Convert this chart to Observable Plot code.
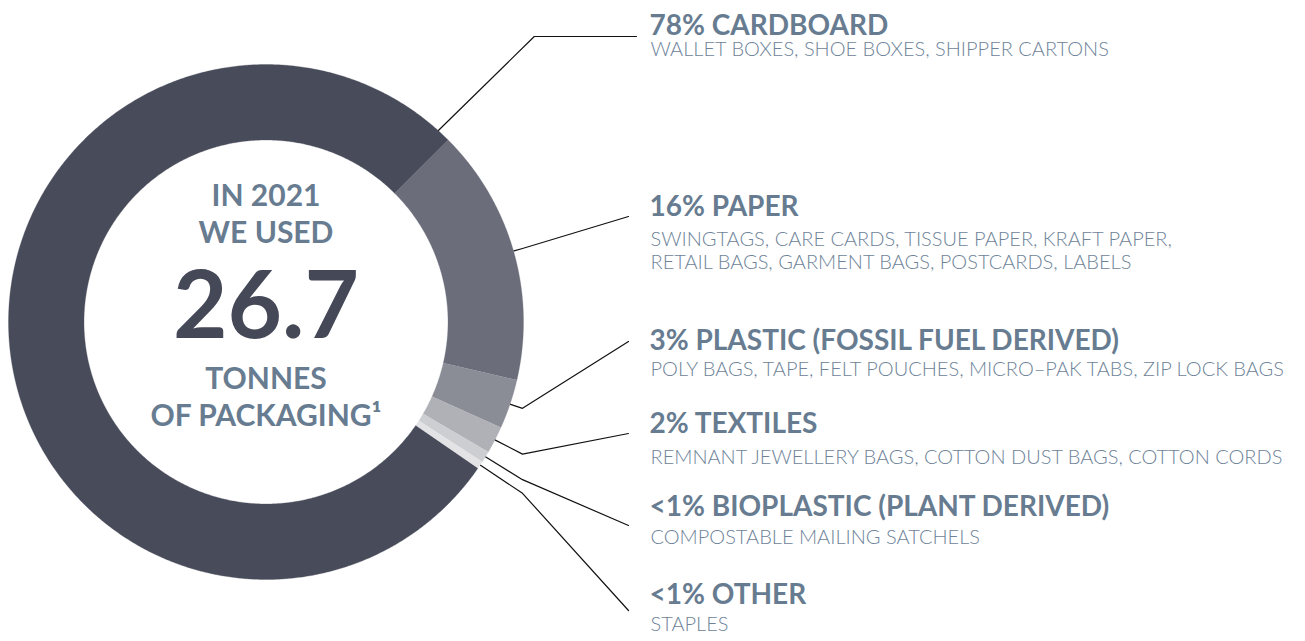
<!DOCTYPE html>
<html><head><meta charset="utf-8">
<script src="https://cdn.jsdelivr.net/npm/d3@7"></script>
<script src="https://cdn.jsdelivr.net/npm/@observablehq/plot@0.6"></script>
<style>
html,body{margin:0;padding:0;background:#fff;}
#chart{width:1305px;height:641px;overflow:hidden;}
</style>
</head><body><div id="chart"></div>
<script>
// ---------------- DATA ----------------
const categories = ["CARDBOARD", "PAPER", "PLASTIC (FOSSIL FUEL DERIVED)", "TEXTILES", "BIOPLASTIC (PLANT DERIVED)", "OTHER"];
const percentLabels = ["78%", "16%", "3%", "2%", "<1%", "<1%"];
const shares = [77.8, 16.1, 3.1, 1.7, 0.7, 0.5];   // share of the ring
const descriptions = [
  ["WALLET BOXES, SHOE BOXES, SHIPPER CARTONS"],
  ["SWINGTAGS, CARE CARDS, TISSUE PAPER, KRAFT PAPER,", "RETAIL BAGS, GARMENT BAGS, POSTCARDS, LABELS"],
  ["POLY BAGS, TAPE, FELT POUCHES, MICRO–PAK TABS, ZIP LOCK BAGS"],
  ["REMNANT JEWELLERY BAGS, COTTON DUST BAGS, COTTON CORDS"],
  ["COMPOSTABLE MAILING SATCHELS"],
  ["STAPLES"]
];
const centerLines = ["IN 2021", "WE USED", "26.7", "TONNES", "OF PACKAGING¹"];

// ---------------- LAYOUT / STYLE ----------------
const W = 1305, H = 641;
const CX = 265.5, CY = 321.5, R_OUT = 257.5, R_IN = 182;
const START_DEG = 45;                 // PAPER begins here, clockwise from 12 o'clock
const drawOrder = [1, 2, 3, 4, 5, 0];
const sliceColors = ["#484b59", "#6b6d7a", "#8a8c96", "#b0b1b7", "#cdced2", "#e3e3e6"];
const DARK = "#454856", NAME = "#677c90", SUB = "#6e8398";
const LABEL_X = 649;
const headBase = [34, 215, 349, 432, 515, 603];
const subBase = [[55], [245, 268], [375], [463], [543], [630]];
const headWidth = [264, 149, 415, 138, 482, 153];
const subWidth = [[466], [494, 462], [628], [642], [303], [70]];
const leaderEndX = [636, 628, 628, 628, 628, 628];
const leaderEndY = [36, 216, 341, 433, 525, 610];
const ELBOW_X = 522;
const centerBase = [205, 242, 337, 388, 425];
const centerSize = [30, 30, 94, 30, 30];
const centerWidth = [110, 142, 177, 124, 241];
const centerColor = [NAME, NAME, DARK, NAME, NAME];

// ---------------- GEOMETRY FROM DATA ----------------
const total = d3.sum(shares);
const slices = [];
{
  let a = START_DEG;
  for (const i of drawOrder) {
    const span = shares[i] / total * 360;
    slices[i] = {i, a0: a, a1: a + span, mid: a + span / 2};
    a += span;
  }
}
const rad = d => d * Math.PI / 180;
const px = (r, deg) => CX + r * Math.sin(rad(deg));
const py = (r, deg) => CY - r * Math.cos(rad(deg));

const arcPts = [];
for (const i of drawOrder) {
  const s = slices[i];
  const n = Math.max(2, Math.ceil((s.a1 - s.a0) / 0.4));
  for (let k = 0; k <= n; k++) { const d = s.a0 + (s.a1 - s.a0) * k / n; arcPts.push({key: i, x: px(R_OUT, d), y: py(R_OUT, d), color: sliceColors[i]}); }
  for (let k = n; k >= 0; k--) { const d = s.a0 + (s.a1 - s.a0) * k / n; arcPts.push({key: i, x: px(R_IN, d), y: py(R_IN, d), color: sliceColors[i]}); }
}

const leaderPts = [];
categories.forEach((c, i) => {
  const s = slices[i];
  const ang = i === 0 ? s.a1 - 3 : s.mid;
  const sx = px(R_OUT + 0.5, ang), sy = py(R_OUT + 0.5, ang);
  let ex, ey;
  if (i === 0) { const t = sy - leaderEndY[i]; ex = sx + t * 1.02; ey = leaderEndY[i]; }
  else { const r = (ELBOW_X - CX) / Math.sin(rad(ang)); ex = ELBOW_X; ey = py(r, ang); }
  leaderPts.push({key: i, x: sx, y: sy}, {key: i, x: ex, y: ey}, {key: i, x: leaderEndX[i], y: leaderEndY[i]});
});

const headRows = categories.map((c, i) => ({i, x: LABEL_X, y: headBase[i], text: percentLabels[i] + " " + c}));
const subRows = [];
descriptions.forEach((lines, i) => lines.forEach((t, j) => subRows.push({i, j, x: LABEL_X + 1, y: subBase[i][j], text: t, w: subWidth[i][j]})));
const centerRows = centerLines.map((t, k) => ({k, x: CX, y: centerBase[k], text: t}));

// ---------------- PLOT ----------------
const chart = Plot.plot({
  width: W, height: H, margin: 0,
  x: {domain: [0, W], range: [0, W], axis: null},
  y: {domain: [0, H], range: [0, H], axis: null},
  color: {type: "identity"},
  style: {background: "#fff"},
  marks: [
    Plot.line(arcPts, {x: "x", y: "y", z: "key", fill: "color", stroke: "color", strokeWidth: 0.3, curve: "linear"}),
    Plot.line(leaderPts, {x: "x", y: "y", z: "key", stroke: "#111", strokeWidth: 1.2, curve: "linear"}),
    Plot.text(headRows, {x: "x", y: "y", text: "text", textAnchor: "start", lineAnchor: "bottom", fill: NAME,
      fontFamily: "Lato", fontWeight: 700, fontSize: 28, ariaLabel: "heading"}),
    Plot.text(subRows, {x: "x", y: "y", text: "text", textAnchor: "start", lineAnchor: "bottom", fill: SUB,
      fontFamily: "Lato", fontWeight: 300, fontSize: 20, ariaLabel: "sub"}),
    ...centerRows.map(r => Plot.text([r], {x: "x", y: "y", text: "text", textAnchor: "middle", lineAnchor: "bottom",
      fill: centerColor[r.k], fontFamily: "Lato", fontWeight: 700, fontSize: centerSize[r.k], ariaLabel: "center" + r.k}))
  ]
});
document.getElementById("chart").appendChild(chart);

// two-tone headings and fitted text widths
const NS = "http://www.w3.org/2000/svg";
d3.select(chart).selectAll('g[aria-label="heading"] text').each(function(_, k) {
  const full = this.textContent, sp = full.indexOf(" ");
  this.textContent = "";
  const t1 = document.createElementNS(NS, "tspan"); t1.setAttribute("fill", DARK); t1.textContent = full.slice(0, sp);
  const t2 = document.createElementNS(NS, "tspan"); t2.textContent = full.slice(sp);
  this.appendChild(t1); this.appendChild(t2);
  this.setAttribute("textLength", headWidth[k]); this.setAttribute("lengthAdjust", "spacingAndGlyphs");
});
d3.select(chart).selectAll('g[aria-label="sub"] text').each(function(_, k) {
  this.setAttribute("textLength", subRows[k].w); this.setAttribute("lengthAdjust", "spacingAndGlyphs");
});
centerRows.forEach(r => {
  d3.select(chart).selectAll(`g[aria-label="center${r.k}"] text`).each(function() {
    this.setAttribute("textLength", centerWidth[r.k]); this.setAttribute("lengthAdjust", "spacingAndGlyphs");
  });
});
</script>
</body></html>
